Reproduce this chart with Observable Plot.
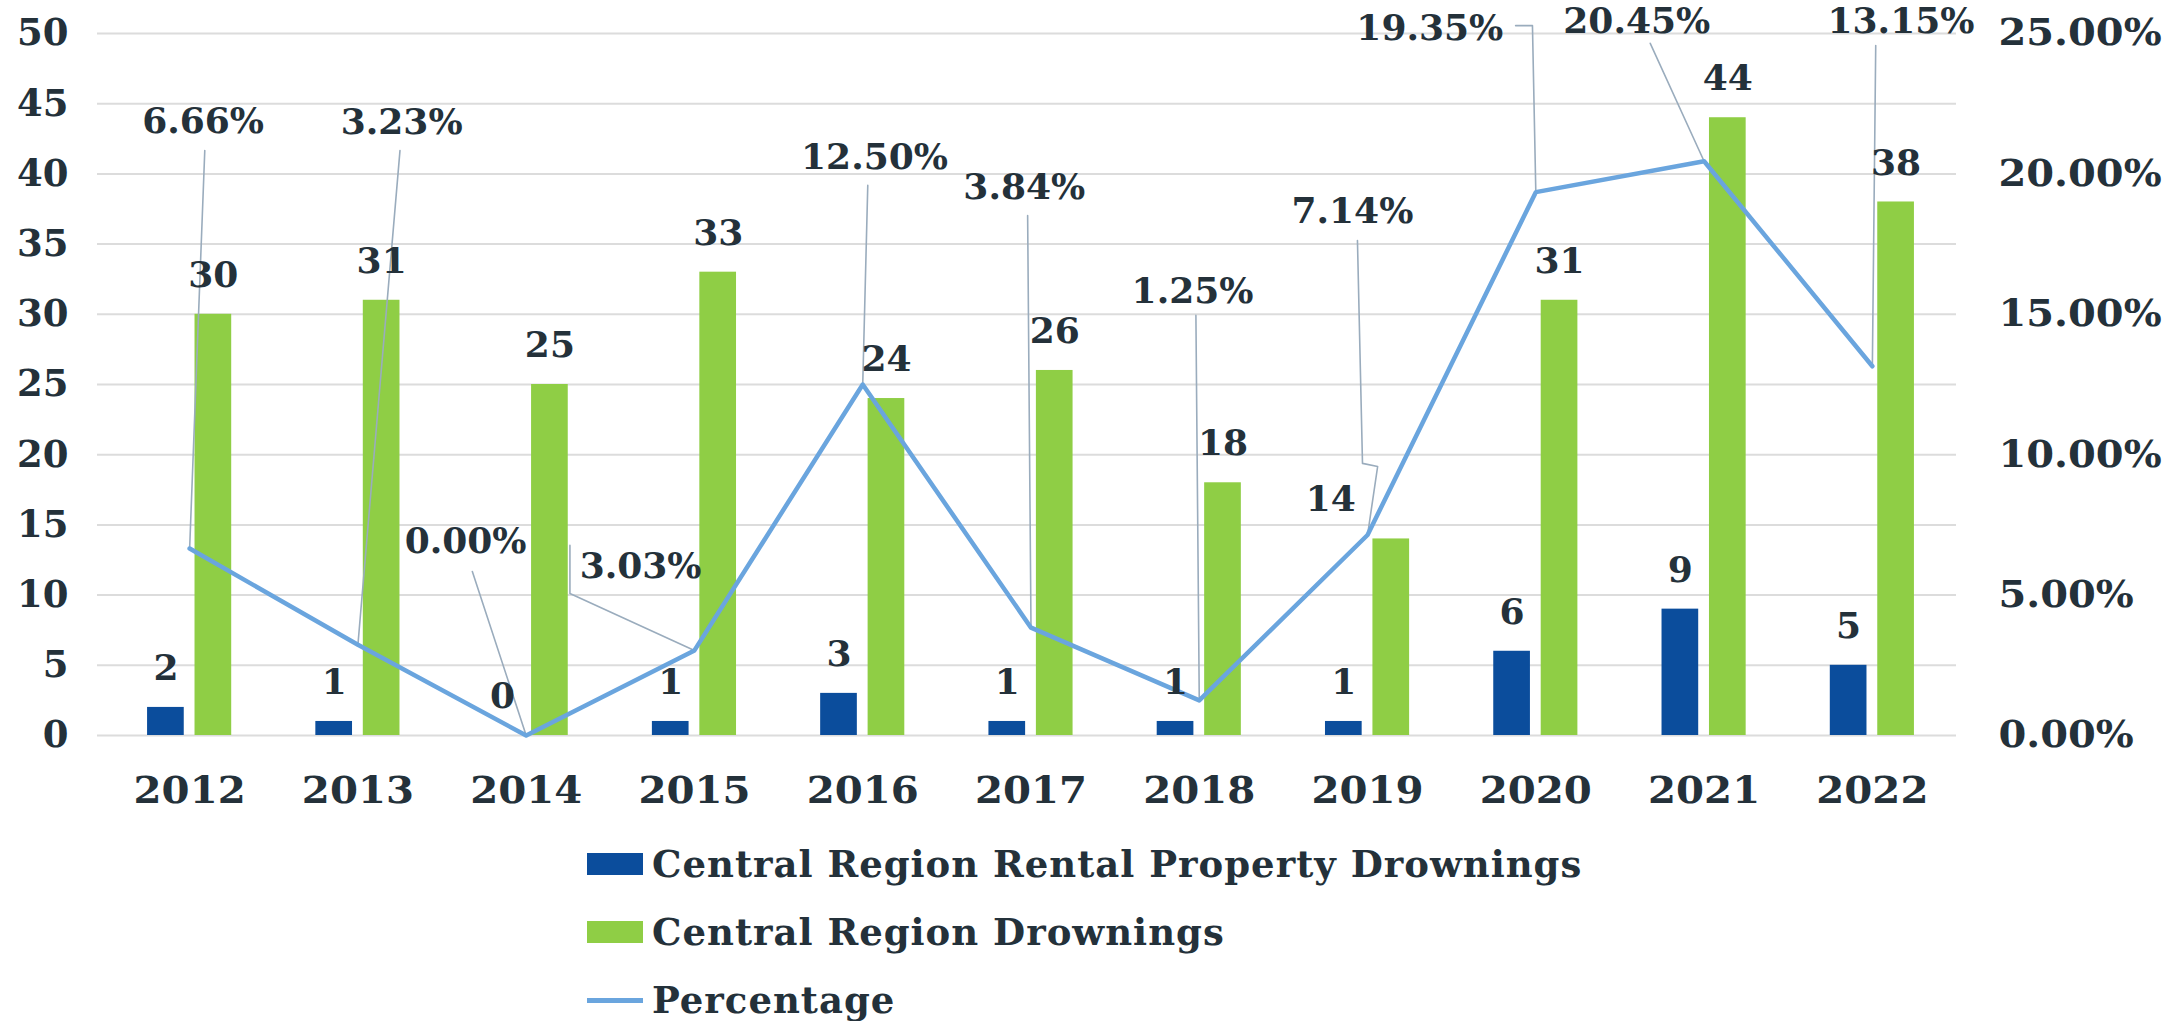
<!DOCTYPE html>
<html><head><meta charset="utf-8">
<script src="https://cdn.jsdelivr.net/npm/d3@7"></script>
<script src="https://cdn.jsdelivr.net/npm/@observablehq/plot@0.6"></script>
<style>
html,body{margin:0;padding:0;background:#fff;overflow:hidden;}
#legend{font-family:"DejaVu Serif";font-weight:bold;font-size:37px;letter-spacing:1px;color:#24313a;}
.row{display:flex;align-items:center;height:68px;padding-left:587px;}
.sw{width:56px;height:22px;margin-right:9px;flex:none;}
.ln{width:56px;height:5px;margin-right:9px;flex:none;}
</style></head><body><div id="chart"></div><div id="legend"></div>
<script>
// ---- data ----
const years = [2012, 2013, 2014, 2015, 2016, 2017, 2018, 2019, 2020, 2021, 2022];
const rentalDrownings = [2, 1, 0, 1, 3, 1, 1, 1, 6, 9, 5];
const regionDrownings = [30, 31, 25, 33, 24, 26, 18, 14, 31, 44, 38];
const percentage = [6.66, 3.23, 0.00, 3.03, 12.50, 3.84, 1.25, 7.14, 19.35, 20.45, 13.15];
const percentageLabels = ["6.66%", "3.23%", "0.00%", "3.03%", "12.50%", "3.84%", "1.25%", "7.14%", "19.35%", "20.45%", "13.15%"];
const leftTicks = [0, 5, 10, 15, 20, 25, 30, 35, 40, 45, 50];
const rightTickLabels = ["0.00%", "", "5.00%", "", "10.00%", "", "15.00%", "", "20.00%", "", "25.00%"];
const seriesNames = ["Central Region Rental Property Drownings", "Central Region Drownings", "Percentage"];

// ---- annotation layout (dragged labels, in axis units: year, percent) ----
const pctLabelX = [2012.08, 2013.26, 2013.64, 2014.68, 2016.07, 2016.96, 2017.96, 2018.91, 2019.37, 2020.60, 2022.17];
const pctLabelY = [21.87, 21.83, 6.91, 6.02, 20.58, 19.52, 15.81, 18.66, 25.18, 25.43, 25.43];
const leaderStarts = [
  [[2012.09, 20.83]],
  [[2013.25, 20.83]],
  [[2013.68, 5.84]],
  [[2014.26, 6.77], [2014.26, 5.06]],
  [[2016.03, 19.59]],
  [[2016.98, 18.52]],
  [[2017.98, 14.96]],
  [[2018.94, 17.63], [2018.97, 9.69], [2019.06, 9.58]],
  [[2019.88, 25.28], [2019.98, 25.28]],
  [[2020.68, 24.65]],
  [[2022.02, 24.57]]
];
const regionLabelShift = [0, 0, 0, 0, 0, 0, 0, -0.36, 0, 0, 0];

// ---- build ----
const blue = "#0b4d9c", green = "#8fce45", lineBlue = "#6aa5de", ink = "#24313a", grid = "#dcdcdc";
const rows = years.map((y, i) => ({year: y, rental: rentalDrownings[i], region: regionDrownings[i], pct: percentage[i], i}));
const leaderPts = [];
leaderStarts.forEach((pts, i) => {
  pts.forEach(p => leaderPts.push({id: i, x: p[0], y: p[1] * 2}));
  leaderPts.push({id: i, x: years[i], y: percentage[i] * 2});
});
const font = {fontFamily: "DejaVu Serif", fontWeight: "bold", fontSize: 36, fill: ink};

const chart = Plot.plot({
  width: 2175, height: 830,
  marginLeft: 97, marginRight: 219, marginTop: 33, marginBottom: 95,
  x: {domain: [2011.5, 2022.5], insetLeft: 8},
  y: {domain: [0, 50]},
  style: {fontFamily: "DejaVu Serif", fontWeight: "bold", fontSize: "37px", color: ink, background: "#fff"},
  marks: [
    Plot.ruleY(leftTicks, {stroke: grid, strokeWidth: 2}),
    Plot.axisY(leftTicks, {anchor: "left", tickSize: 0, tickPadding: 29, label: null, fontSize: 37}),
    Plot.axisY(leftTicks, {anchor: "right", tickSize: 0, tickPadding: 42, label: null, fontSize: 37, textAnchor: "start",
      tickFormat: d => rightTickLabels[leftTicks.indexOf(d)]}),
    Plot.axisX(years, {anchor: "bottom", tickSize: 0, tickPadding: 41, label: null, fontSize: 38, tickFormat: d => String(d)}),
    Plot.rectY(rows, {x1: d => d.year - 0.25, x2: d => d.year - 0.032, y: "rental", fill: blue}),
    Plot.rectY(rows, {x1: d => d.year + 0.032, x2: d => d.year + 0.25, y: "region", fill: green}),
    Plot.line(leaderPts, {x: "x", y: "y", z: "id", stroke: "#9aacbd", strokeWidth: 1.6}),
    Plot.line(rows, {x: "year", y: d => d.pct * 2, stroke: lineBlue, strokeWidth: 4.5}),
    Plot.text(rows, {x: d => d.year - 0.141, y: "rental", text: d => String(d.rental), dy: -39, ...font, ariaLabel: "count-labels"}),
    Plot.text(rows, {x: d => d.year + 0.141 + regionLabelShift[d.i], y: "region", text: d => String(d.region), dy: -39, ...font, ariaLabel: "count-labels"}),
    Plot.text(rows, {x: d => pctLabelX[d.i], y: d => pctLabelY[d.i] * 2, text: d => percentageLabels[d.i], ...font, ariaLabel: "pct-labels"})
  ]
});
document.getElementById("chart").appendChild(chart);

// widen glyphs slightly to match the reference's broad slab-serif face
function stretchTexts(texts, k) {
  texts.forEach(t => {
    const w = t.getComputedTextLength();
    if (w > 0) { t.setAttribute("textLength", w * k); t.setAttribute("lengthAdjust", "spacingAndGlyphs"); }
  });
}
const byLabel = l => Array.from(chart.querySelectorAll(`g[aria-label="${l}"] text`));
stretchTexts(byLabel("x-axis tick label"), 1.06);
stretchTexts(byLabel("y-axis tick label").filter(t => getComputedStyle(t).textAnchor === "start"), 1.08);
stretchTexts(byLabel("pct-labels"), 1.1);
stretchTexts(byLabel("count-labels"), 1.04);

const legend = document.getElementById("legend");
const swatches = [["sw", blue], ["sw", green], ["ln", lineBlue]];
seriesNames.forEach((name, i) => {
  const row = document.createElement("div");
  row.className = "row";
  const sw = document.createElement("span");
  sw.className = swatches[i][0];
  sw.style.background = swatches[i][1];
  const tx = document.createElement("span");
  tx.textContent = name;
  row.appendChild(sw); row.appendChild(tx);
  legend.appendChild(row);
});
</script></body></html>
